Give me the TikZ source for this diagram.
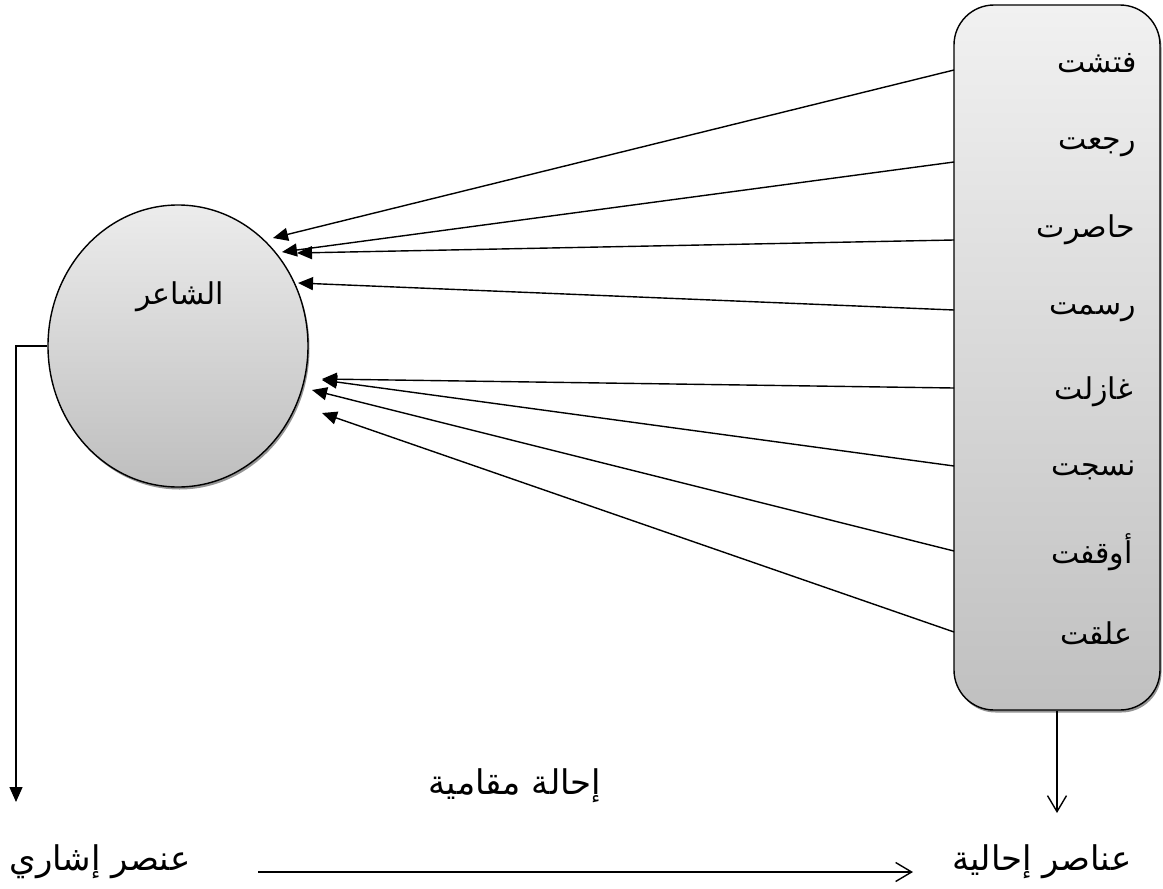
\documentclass[tikz,border=0pt]{standalone}
\usepackage{fontspec}
\newfontfamily\arabicfont[Script=Arabic]{DejaVu Sans}
\TeXXeTstate=1
\usetikzlibrary{shapes.geometric,arrows.meta,shadows}
\definecolor{ctop}{RGB}{236,236,236}
\definecolor{cbot}{RGB}{190,190,190}
\definecolor{rtop}{RGB}{241,241,241}
\definecolor{rbot}{RGB}{192,192,192}
\begin{document}
\begin{tikzpicture}[x=1pt,y=-1pt,
  lbl/.style={font=\arabicfont\fontsize{30}{34}\selectfont, inner sep=0pt},
  blbl/.style={font=\arabicfont\fontsize{34}{38}\selectfont, inner sep=0pt},
  arr/.style={line width=1.4pt, -{Triangle[length=15pt,width=13pt]}},
  openarr/.style={line width=1.4pt, -{Straight Barb[length=16pt,width=19pt,line width=1.4pt]}},
  shad/.style={drop shadow={shadow xshift=1.5pt, shadow yshift=-2.5pt, fill=black!60, opacity=0.7}}]
\useasboundingbox (0,0) rectangle (1163,889);

% shapes
\node[ellipse, draw, line width=1.4pt, minimum width=260pt, minimum height=282pt,
      top color=ctop, bottom color=cbot, shad] (poet) at (178,346) {};
\node[draw, line width=1.4pt, rounded corners=40pt, minimum width=206pt, minimum height=705pt,
      top color=rtop, bottom color=rbot, shad] (box) at (1057,357.5) {};

% labels
\node[lbl] (pl) at (180,297) {\beginR الشاعر\endR};
\node[lbl, anchor=east] (w1) at (1137,63)  {\beginR فتشت\endR};
\node[lbl, anchor=east] (w2) at (1136,147) {\beginR رجعت\endR};
\node[lbl, anchor=east] (w3) at (1135,230) {\beginR حاصرت\endR};
\node[lbl, anchor=east] (w4) at (1136,312) {\beginR رسمت\endR};
\node[lbl, anchor=east] (w5) at (1133,392) {\beginR غازلت\endR};
\node[lbl, anchor=east] (w6) at (1136,470) {\beginR نسجت\endR};
\node[lbl, anchor=east] (w7) at (1133,552) {\beginR أوقفت\endR};
\node[lbl, anchor=east] (w8) at (1133,633) {\beginR علقت\endR};

\node[blbl] (ref) at (100,862) {\beginR عنصر إشاري\endR};
\node[blbl] (els) at (1042,862) {\beginR عناصر إحالية\endR};
\node[blbl] (sit) at (515,786) {\beginR إحالة مقامية\endR};

% connector ends
\coordinate (s1) at (954,70);  \coordinate (t1) at (273,238);
\coordinate (s2) at (954,162); \coordinate (t2) at (282,252);
\coordinate (s3) at (954,240); \coordinate (t3) at (297,253);
\coordinate (s4) at (954,310); \coordinate (t4) at (298,283);
\coordinate (s5) at (954,388); \coordinate (t5) at (322,379);
\coordinate (s6) at (954,466); \coordinate (t6) at (322,380);
\coordinate (s7) at (954,551); \coordinate (t7) at (312,390);
\coordinate (s8) at (954,632); \coordinate (t8) at (322,413);
\coordinate (lt) at (16,802);
\coordinate (dt) at (1057,813);
\coordinate (b1) at (258,872);
\coordinate (b2) at (913,872);

% connectors
\foreach \i in {1,...,8} { \draw[arr] (s\i) -- (t\i); }
\draw[arr] (poet.west) -| (lt);
\draw[openarr] (box.south) -- (dt);
\draw[openarr] (b1) -- (b2);
\end{tikzpicture}
\end{document}
